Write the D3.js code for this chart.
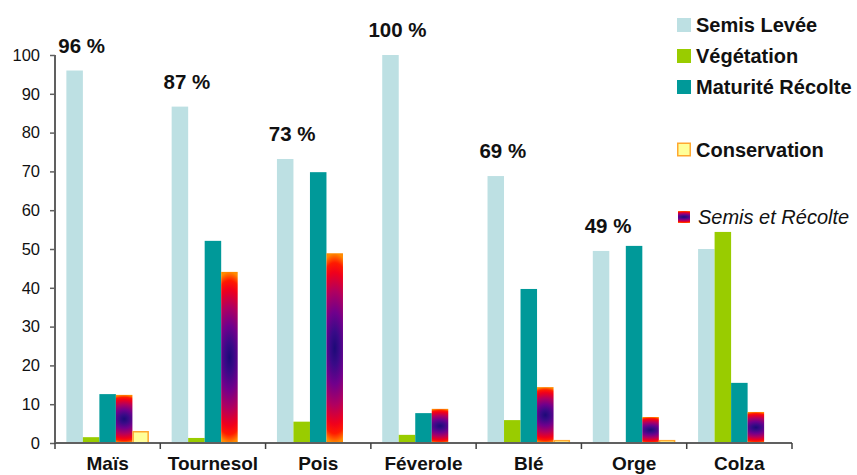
<!DOCTYPE html>
<html>
<head>
<meta charset="utf-8">
<script src="https://cdn.jsdelivr.net/npm/d3@7"></script>
<style>
  html, body { margin: 0; padding: 0; background: #fff; }
  svg { display: block; font-family: "Liberation Sans", Arial, sans-serif; }
</style>
</head>
<body>
<svg id="chart" width="857" height="475"></svg>
<script>
// ---- Data ----
const categories = ["Maïs", "Tournesol", "Pois", "Féverole", "Blé", "Orge", "Colza"];
const seriesNames = ["Semis Levée", "Végétation", "Maturité Récolte", "Semis et Récolte", "Conservation"];
const semisLevee      = [96, 86.7, 73.2, 100, 68.8, 49.5, 50];
const vegetation      = [1.5, 1.3, 5.5, 2.1, 5.9, 0, 54.4];
const maturiteRecolte = [12.6, 52.1, 69.8, 7.7, 39.7, 50.8, 15.5];
const semisEtRecolte  = [12.4, 44.1, 48.9, 8.8, 14.4, 6.7, 8.0];
const conservation    = [2.9, 0, 0, 0, 0.6, 0.6, 0];
const percentLabels   = ["96 %", "87 %", "73 %", "100 %", "69 %", "49 %", ""];
const yTicks = [0, 10, 20, 30, 40, 50, 60, 70, 80, 90, 100];
const legendOrder = ["Semis Levée", "Végétation", "Maturité Récolte", "Conservation", "Semis et Récolte"];

const seriesValues = [semisLevee, vegetation, maturiteRecolte, semisEtRecolte, conservation];

// ---- Layout ----
const svg = d3.select("#chart");
const plotLeft = 55, plotRight = 792, plotTop = 55, plotBottom = 443;

const x0 = d3.scaleBand().domain(categories).range([plotLeft, plotRight]).paddingInner(0).paddingOuter(0);
const bw = x0.bandwidth();
const inset = bw * 0.108;
const x1 = d3.scaleBand().domain(seriesNames).range([inset, bw - inset]).padding(0);
const y = d3.scaleLinear().domain([0, 100]).range([plotBottom, plotTop]);

// ---- Gradient for "Semis et Récolte" ----
const defs = svg.append("defs");
const grad = defs.append("radialGradient")
  .attr("id", "serGrad")
  .attr("cx", 0.5).attr("cy", 0.5).attr("r", 0.5)
  .attr("gradientTransform", "translate(0.5 0.5) scale(3.2 1) translate(-0.5 -0.5)");
[
  [0, "#1c0a78"], [0.18, "#3a0a88"], [0.38, "#70008c"], [0.6, "#b00060"],
  [0.8, "#f0001c"], [0.9, "#ff1a00"], [1, "#ff8a00"]
].forEach(([o, c]) => grad.append("stop").attr("offset", o).attr("stop-color", c));

const fills = {
  "Semis Levée": "#bde0e3",
  "Végétation": "#99cc00",
  "Maturité Récolte": "#009999",
  "Semis et Récolte": "url(#serGrad)",
  "Conservation": "#ffff99"
};

// ---- Bars ----
const rows = [];
categories.forEach((c, i) => {
  seriesNames.forEach((s, j) => {
    rows.push({ cat: c, series: s, value: seriesValues[j][i] });
  });
});

const g = svg.append("g");
g.selectAll("rect.bar")
  .data(rows.filter(d => d.value > 0))
  .join("rect")
  .attr("class", "bar")
  .attr("x", d => x0(d.cat) + x1(d.series) + (d.series === "Conservation" ? 0.75 : 0))
  .attr("y", d => y(d.value))
  .attr("width", d => x1.bandwidth() - (d.series === "Conservation" ? 1.5 : 0))
  .attr("height", d => y(0) - y(d.value))
  .attr("fill", d => fills[d.series])
  .attr("stroke", d => d.series === "Conservation" ? "#ffa830" : "none")
  .attr("stroke-width", 1.5);

// ---- Axes ----
const yAxis = d3.axisLeft(y).tickValues(yTicks).tickSize(5).tickPadding(10);
const ya = svg.append("g").attr("transform", `translate(${plotLeft},0)`).call(yAxis);
ya.select(".domain").attr("stroke", "#606060").attr("stroke-width", 2).attr("d", `M0,${plotTop}V${plotBottom}`);
ya.selectAll(".tick line").attr("stroke", "#606060").attr("stroke-width", 1.5);
ya.selectAll(".tick text").attr("font-size", 16.5).attr("fill", "#111")
  .attr("font-family", "'Liberation Sans', Arial, sans-serif");

const xa = svg.append("g");
xa.append("line").attr("x1", plotLeft).attr("x2", plotRight).attr("y1", plotBottom).attr("y2", plotBottom)
  .attr("stroke", "#606060").attr("stroke-width", 2);
const bounds = categories.map(c => x0(c)).concat([plotRight]);
xa.selectAll("line.tk").data(bounds).join("line").attr("class", "tk")
  .attr("x1", d => d).attr("x2", d => d).attr("y1", plotBottom).attr("y2", plotBottom + 6)
  .attr("stroke", "#404040").attr("stroke-width", 1.5);
xa.selectAll("text.cat").data(categories).join("text").attr("class", "cat")
  .attr("x", d => x0(d) + bw / 2).attr("y", 470)
  .attr("text-anchor", "middle").attr("font-size", 19).attr("font-weight", "bold")
  .attr("fill", "#111").text(d => d);

// ---- Percent labels ----
svg.selectAll("text.pct").data(categories.map((c, i) => ({ c, i })).filter(d => percentLabels[d.i]))
  .join("text").attr("class", "pct")
  .attr("x", d => x0(d.c) + x1("Semis Levée") + x1.bandwidth() / 2 + 7)
  .attr("y", d => y(semisLevee[d.i]) - 18)
  .attr("text-anchor", "middle").attr("font-size", 20.5).attr("font-weight", "bold")
  .attr("fill", "#111").text(d => percentLabels[d.i]);

// ---- Legend ----
const legendY = { "Semis Levée": 25, "Végétation": 56, "Maturité Récolte": 87, "Conservation": 149.5, "Semis et Récolte": 217 };
const lg = svg.append("g");
legendOrder.forEach(name => {
  const cy = legendY[name];
  if (name === "Conservation") {
    lg.append("rect").attr("x", 677.75).attr("y", cy - 6.25).attr("width", 12.5).attr("height", 12.5)
      .attr("fill", fills[name]).attr("stroke", "#ffa830").attr("stroke-width", 1.5);
  } else if (name === "Semis et Récolte") {
    lg.append("rect").attr("x", 678).attr("y", cy - 6).attr("width", 12).attr("height", 12)
      .attr("fill", fills[name]);
  } else {
    lg.append("rect").attr("x", 677).attr("y", cy - 7).attr("width", 14).attr("height", 14)
      .attr("fill", fills[name]);
  }
  const italic = name === "Semis et Récolte";
  lg.append("text").attr("x", italic ? 698 : 696).attr("y", cy + 7)
    .attr("font-size", 20).attr("font-weight", italic ? "normal" : "bold")
    .attr("font-style", italic ? "italic" : "normal")
    .attr("fill", "#111").text(name);
});
</script>
</body>
</html>
